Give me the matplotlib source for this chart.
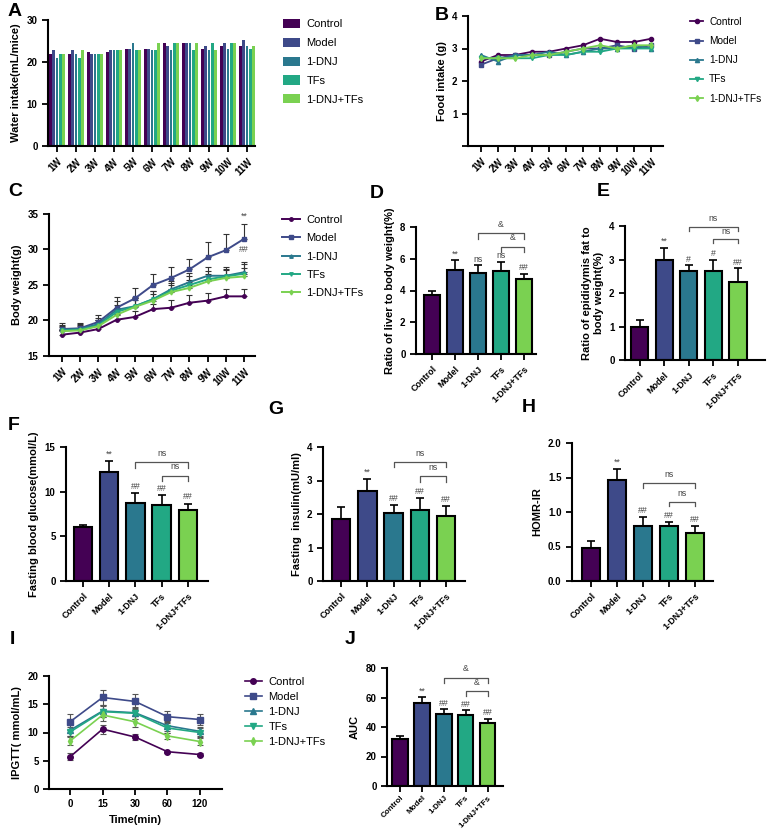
import numpy as np
import matplotlib
matplotlib.use('Agg')
import matplotlib.pyplot as plt

plt.rcParams['font.family'] = ['Liberation Sans', 'DejaVu Sans']
plt.rcParams['axes.linewidth'] = 1.5
plt.rcParams['xtick.major.width'] = 1.3
plt.rcParams['ytick.major.width'] = 1.3
plt.rcParams['xtick.major.size'] = 4
plt.rcParams['ytick.major.size'] = 4

# ---- data ----
groups = ['Control', 'Model', '1-DNJ', 'TFs', '1-DNJ+TFs']
colors = ['#440154', '#3e4a89', '#2a788e', '#22a884', '#7ad151']
weeks = ['1W', '2W', '3W', '4W', '5W', '6W', '7W', '8W', '9W', '10W', '11W']

# A: water intake (mL/mice)
water_control = [21.8, 21.8, 22.4, 22.4, 23.2, 23.2, 24.5, 24.5, 23.2, 23.7, 23.7]
water_model = [22.8, 22.8, 21.8, 22.8, 23.2, 23.2, 23.7, 24.5, 23.7, 24.5, 25.3]
water_dnj = [21.0, 21.8, 21.8, 22.8, 24.5, 22.8, 22.8, 24.5, 22.8, 23.2, 23.7]
water_tfs = [21.8, 21.0, 21.8, 22.8, 22.8, 22.8, 24.5, 22.8, 24.5, 24.5, 23.2]
water_combo = [21.8, 22.8, 21.8, 22.8, 22.8, 24.5, 24.5, 24.5, 22.8, 24.5, 23.7]

# B: food intake (g)
food_control = [2.6, 2.8, 2.8, 2.9, 2.9, 3.0, 3.1, 3.3, 3.2, 3.2, 3.3]
food_model = [2.5, 2.7, 2.8, 2.8, 2.8, 2.9, 3.0, 3.0, 3.1, 3.0, 3.1]
food_dnj = [2.8, 2.6, 2.8, 2.8, 2.9, 2.8, 2.9, 3.0, 3.0, 3.1, 3.0]
food_tfs = [2.7, 2.7, 2.7, 2.7, 2.8, 2.8, 2.9, 2.9, 3.0, 3.0, 3.0]
food_combo = [2.7, 2.7, 2.7, 2.8, 2.8, 2.9, 3.0, 3.1, 3.0, 3.1, 3.1]

# C: body weight (g) and upper errors
bw_control = [18.0, 18.3, 18.8, 20.1, 20.5, 21.6, 21.8, 22.5, 22.8, 23.4, 23.4]
bw_model = [18.8, 18.9, 19.8, 21.8, 23.1, 25.0, 26.0, 27.2, 28.9, 29.9, 31.5]
bw_dnj = [18.7, 18.8, 19.5, 21.5, 22.0, 23.0, 24.4, 25.4, 26.3, 26.3, 26.8]
bw_tfs = [18.6, 18.7, 19.3, 21.2, 22.0, 23.0, 24.2, 25.0, 25.8, 26.2, 26.6]
bw_combo = [18.5, 18.6, 19.2, 20.8, 21.9, 22.8, 24.0, 24.6, 25.5, 26.0, 26.2]
bw_control_err = [0.6, 0.6, 0.7, 0.8, 0.8, 0.7, 1.1, 1.1, 1.1, 1.1, 1.0]
bw_model_err = [0.8, 0.8, 1.0, 1.5, 1.5, 1.6, 1.5, 1.5, 2.1, 2.3, 2.1]
bw_dnj_err = [0.7, 0.7, 0.9, 1.2, 1.3, 1.2, 1.2, 1.3, 1.3, 1.2, 1.4]
bw_tfs_err = [0.6, 0.6, 0.8, 1.0, 1.1, 1.1, 1.1, 1.2, 1.2, 1.1, 1.3]
bw_combo_err = [0.6, 0.6, 0.8, 1.0, 1.0, 1.0, 1.0, 1.1, 1.1, 1.1, 1.2]

# D: ratio of liver to body weight (%)
liver = [3.7, 5.3, 5.1, 5.2, 4.75]
liver_err = [0.3, 0.6, 0.5, 0.6, 0.3]
liver_sig = ['', '**', 'ns', 'ns', '##']

# E: ratio of epididymis fat to body weight (%)
fat = [1.0, 3.0, 2.65, 2.65, 2.32]
fat_err = [0.2, 0.35, 0.18, 0.35, 0.42]
fat_sig = ['', '**', '#', '#', '##']

# F: fasting blood glucose (mmol/L)
glucose = [6.0, 12.2, 8.7, 8.5, 7.9]
glucose_err = [0.3, 1.2, 1.1, 1.1, 0.7]
glucose_sig = ['', '**', '##', '##', '##']

# G: fasting insulin (mU/ml)
insulin = [1.85, 2.7, 2.03, 2.12, 1.95]
insulin_err = [0.35, 0.35, 0.25, 0.35, 0.3]
insulin_sig = ['', '**', '##', '##', '##']

# H: HOMR-IR
homa = [0.48, 1.46, 0.79, 0.79, 0.69]
homa_err = [0.1, 0.17, 0.14, 0.06, 0.1]
homa_sig = ['', '**', '##', '##', '##']

# I: IPGTT (mmol/mL)
times = ['0', '15', '30', '60', '120']
ipgtt_control = [5.7, 10.6, 9.2, 6.6, 6.1]
ipgtt_model = [11.9, 16.2, 15.5, 12.8, 12.3]
ipgtt_dnj = [10.4, 13.8, 13.5, 11.2, 10.2]
ipgtt_tfs = [10.1, 13.7, 13.4, 10.8, 10.0]
ipgtt_combo = [8.5, 13.1, 11.9, 9.4, 8.4]
ipgtt_control_err = [0.6, 0.8, 0.5, 0.2, 0.3]
ipgtt_model_err = [1.4, 1.4, 1.4, 1.0, 0.9]
ipgtt_dnj_err = [1.0, 1.1, 1.1, 0.9, 0.8]
ipgtt_tfs_err = [0.9, 1.0, 1.0, 0.8, 0.8]
ipgtt_combo_err = [0.8, 1.0, 1.0, 0.6, 0.6]

# J: AUC
auc = [32.0, 56.5, 48.5, 48.0, 43.0]
auc_err = [2.0, 4.0, 3.5, 3.5, 2.5]
auc_sig = ['', '**', '##', '##', '##']

markers = ['o', 's', '^', 'v', 'd']

W, H = 767, 835
fig = plt.figure(figsize=(W / 100, H / 100), dpi=100)


def make_ax(left, right, top, bottom):
    ax = fig.add_axes([left / W, 1 - bottom / H, (right - left) / W, (bottom - top) / H])
    ax.spines['top'].set_visible(False)
    ax.spines['right'].set_visible(False)
    ax.tick_params(labelsize=7)
    return ax


def rot_labels(ax, labels, size=6.5):
    ax.set_xticklabels(labels, rotation=45, ha='right', rotation_mode='anchor',
                       fontsize=size, fontweight='bold')


def bar_panel(ax, vals, errs, sig, brackets, sig_off, lab_size=6.5):
    x = np.arange(len(vals))
    ax.bar(x, vals, width=0.7, color=colors, edgecolor='black', linewidth=1.5, zorder=2)
    ax.errorbar(x, vals, yerr=[np.zeros(len(vals)), errs], fmt='none', ecolor='black',
                elinewidth=1.2, capsize=3, capthick=1.2, zorder=3)
    for i, s in enumerate(sig):
        if s:
            ax.text(x[i], vals[i] + errs[i] + sig_off, s, ha='center', va='bottom',
                    fontsize=6.3, color='#444444')
    for (i, j, y, tick, s) in brackets:
        ax.plot([x[i], x[i], x[j], x[j]], [y - tick, y, y, y - tick], color='#555555',
                lw=0.9, clip_on=False)
        ax.text((x[i] + x[j]) / 2, y + tick * 0.8, s, ha='center', va='bottom',
                fontsize=6.3, color='#444444', clip_on=False)
    ax.set_xticks(x)
    rot_labels(ax, groups, lab_size)


def lines_with_err(ax, xs, series, errs, upper_only, ms, lw, ecol, cap):
    for k in range(len(series)):
        if upper_only:
            yerr = [np.zeros(len(xs)), errs[k]]
        else:
            yerr = errs[k]
        ax.errorbar(xs, series[k], yerr=yerr, fmt='none', ecolor=ecol, elinewidth=0.8,
                    capsize=cap, capthick=0.8, zorder=1)
        ax.plot(xs, series[k], color=colors[k], marker=markers[k], ms=ms, lw=lw,
                label=groups[k], zorder=2)


leg_kw = dict(bbox_transform=fig.transFigure, loc='upper left', frameon=False,
              borderpad=0, borderaxespad=0)

# ---- A ----
axA = make_ax(48, 255, 20, 146)
xw = np.arange(len(weeks))
water = [water_control, water_model, water_dnj, water_tfs, water_combo]
for k in range(5):
    axA.bar(xw + (k - 2) * 0.18, water[k], width=0.15, color=colors[k], label=groups[k])
axA.set_ylim(0, 30)
axA.set_yticks([0, 10, 20, 30])
axA.set_xlim(-0.47, 10.42)
axA.set_xticks(xw)
rot_labels(axA, weeks, 7)
axA.set_ylabel('Water intake(mL/mice)', fontsize=8)
axA.legend(bbox_to_anchor=(283 / W, 1 - 19 / H), fontsize=8, handlelength=1.5, handleheight=0.9,
           labelspacing=0.75, handletextpad=0.6, **leg_kw)

# ---- B ----
axB = make_ax(468, 663, 16, 146)
food = [food_control, food_model, food_dnj, food_tfs, food_combo]
for k in range(5):
    axB.plot(xw, food[k], color=colors[k], marker=markers[k], ms=3, lw=1.3, label=groups[k])
axB.set_ylim(0, 4)
axB.set_yticks([0, 1, 2, 3, 4])
axB.set_yticklabels(['', '1', '2', '3', '4'])
axB.set_xlim(-0.76, 10.7)
axB.set_xticks(xw)
rot_labels(axB, weeks, 7)
axB.set_ylabel('Food intake (g)', fontsize=8)
axB.legend(bbox_to_anchor=(690 / W, 1 - 17 / H), fontsize=7.3, handlelength=1.3,
           labelspacing=0.9, handletextpad=0.6, **leg_kw)

# ---- C ----
axC = make_ax(49, 255, 214, 356)
bw = [bw_control, bw_model, bw_dnj, bw_tfs, bw_combo]
bw_err = [bw_control_err, bw_model_err, bw_dnj_err, bw_tfs_err, bw_combo_err]
lines_with_err(axC, xw, bw, bw_err, True, 2.5, 1.4, '#333333', 2)
axC.text(xw[-1], 34.0, '**', ha='center', va='bottom', fontsize=6.3, color='#444444')
axC.text(xw[-1], 29.3, '##', ha='center', va='bottom', fontsize=6.3, color='#444444')
axC.set_ylim(15, 35)
axC.set_yticks([15, 20, 25, 30, 35])
axC.set_xlim(-0.71, 10.6)
axC.set_xticks(xw)
rot_labels(axC, weeks, 7)
axC.set_ylabel('Body weight(g)', fontsize=8)
axC.legend(bbox_to_anchor=(282 / W, 1 - 215 / H), fontsize=8, handlelength=1.6,
           labelspacing=0.75, handletextpad=0.6, **leg_kw)

# ---- D ----
axD = make_ax(416, 536, 227, 354)
bar_panel(axD, liver, liver_err, liver_sig,
          [(2, 4, 7.6, 0.35, '&'), (3, 4, 6.75, 0.35, '&')], 0.1)
axD.set_ylim(0, 8)
axD.set_yticks([0, 2, 4, 6, 8])
axD.set_xlim(-0.7, 4.52)
axD.set_ylabel('Ratio of liver to body weight(%)', fontsize=8)

# ---- E ----
axE = make_ax(625, 765, 226, 360)
bar_panel(axE, fat, fat_err, fat_sig,
          [(2, 4, 3.98, 0.12, 'ns'), (3, 4, 3.62, 0.12, 'ns')], 0.05)
axE.set_ylim(0, 4)
axE.set_yticks([0, 1, 2, 3, 4])
axE.set_xlim(-0.6, 5.1)
axE.set_ylabel('Ratio of epididymis fat to\nbody weight(%)', fontsize=8)

# ---- F ----
axF = make_ax(66, 208, 447, 581)
bar_panel(axF, glucose, glucose_err, glucose_sig,
          [(2, 4, 13.3, 0.6, 'ns'), (3, 4, 11.8, 0.6, 'ns')], 0.3)
axF.set_ylim(0, 15)
axF.set_yticks([0, 5, 10, 15])
axF.set_xlim(-0.65, 4.77)
axF.set_ylabel('Fasting blood glucose(mmol/L)', fontsize=8)

# ---- G ----
axG = make_ax(323, 465, 447, 581)
bar_panel(axG, insulin, insulin_err, insulin_sig,
          [(2, 4, 3.55, 0.15, 'ns'), (3, 4, 3.12, 0.15, 'ns')], 0.06)
axG.set_ylim(0, 4)
axG.set_yticks([0, 1, 2, 3, 4])
axG.set_xlim(-0.7, 4.73)
axG.set_ylabel('Fasting  insulin(mU/ml)', fontsize=8)

# ---- H ----
axH = make_ax(572, 713, 443, 581)
bar_panel(axH, homa, homa_err, homa_sig,
          [(2, 4, 1.42, 0.07, 'ns'), (3, 4, 1.15, 0.07, 'ns')], 0.03)
axH.set_ylim(0, 2)
axH.set_yticks([0, 0.5, 1.0, 1.5, 2.0])
axH.set_yticklabels(['0.0', '0.5', '1.0', '1.5', '2.0'])
axH.set_xlim(-0.73, 4.7)
axH.set_ylabel('HOMR-IR', fontsize=8)

# ---- I ----
axI = make_ax(49, 222, 676, 789)
xt = np.arange(len(times))
ipgtt = [ipgtt_control, ipgtt_model, ipgtt_dnj, ipgtt_tfs, ipgtt_combo]
ipgtt_err = [ipgtt_control_err, ipgtt_model_err, ipgtt_dnj_err, ipgtt_tfs_err, ipgtt_combo_err]
lines_with_err(axI, xt, ipgtt, ipgtt_err, False, 4, 1.2, '#555555', 2.5)
axI.set_ylim(0, 20)
axI.set_yticks([0, 5, 10, 15, 20])
axI.set_xlim(-0.65, 4.68)
axI.set_xticks(xt)
axI.set_xticklabels(times, fontsize=7, fontweight='bold')
axI.set_xlabel('Time(min)', fontsize=8, fontweight='bold')
axI.set_ylabel('IPGTT( mmol/mL)', fontsize=8)
axI.legend(bbox_to_anchor=(245 / W, 1 - 677 / H), fontsize=8, handlelength=1.5,
           labelspacing=0.45, handletextpad=0.6, **leg_kw)

# ---- J ----
axJ = make_ax(387, 503, 668, 786)
bar_panel(axJ, auc, auc_err, auc_sig,
          [(2, 4, 73.5, 3.5, '&'), (3, 4, 64.5, 3.5, '&')], 1.0, lab_size=5.8)
axJ.tick_params(axis='x', pad=2)
axJ.set_ylim(0, 80)
axJ.set_yticks([0, 20, 40, 60, 80])
axJ.set_xlim(-0.6, 4.7)
axJ.set_ylabel('AUC', fontsize=8)

for ax in fig.axes:
    ax.yaxis.label.set_fontweight('bold')
    for lab in ax.get_yticklabels():
        lab.set_fontweight('bold')

# panel letters
letters = [('A', 8, 12), ('B', 435, 15), ('C', 8, 192), ('D', 370, 194), ('E', 597, 192),
           ('F', 8, 425), ('G', 268, 410), ('H', 522, 407), ('I', 10, 640), ('J', 345, 640)]
for s, px, py in letters:
    fig.text(px / W, 1 - py / H, s, fontsize=14, fontweight='bold', ha='left', va='center')

fig.savefig('out.png', dpi=100)
